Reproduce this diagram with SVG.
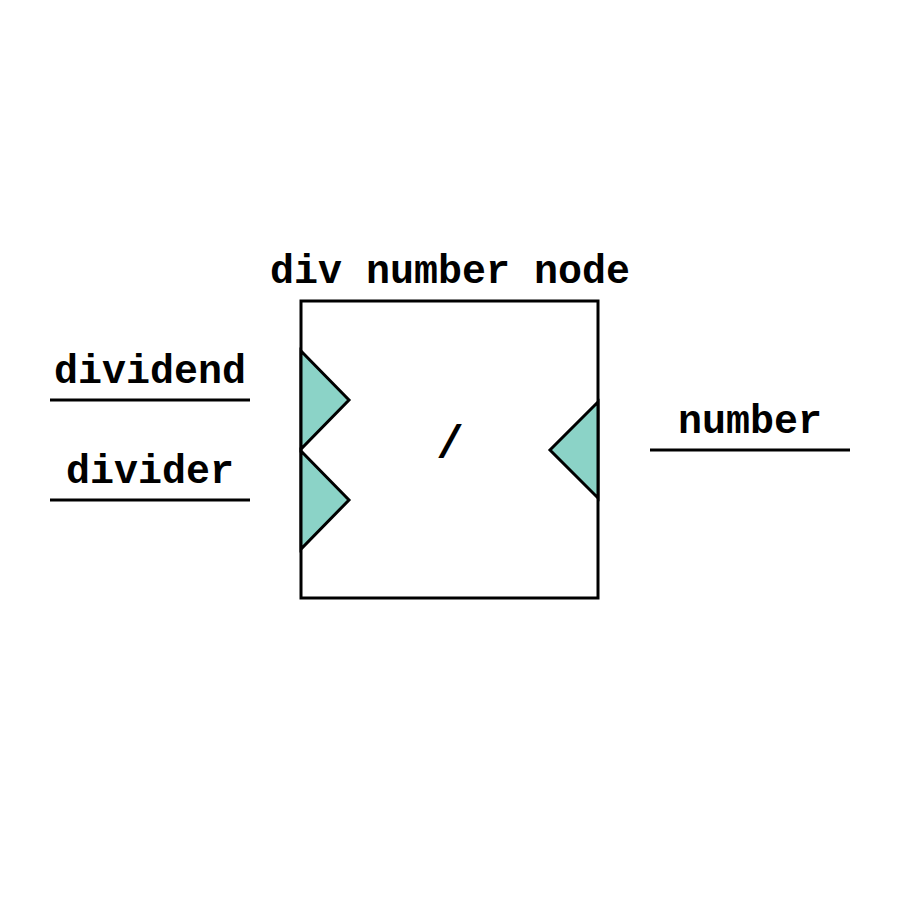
<svg xmlns="http://www.w3.org/2000/svg" width="900" height="900" viewBox="0 0 900 900">
<style>
text{font-family:"Liberation Mono","Courier New",monospace;font-weight:bold;font-size:40px;fill:#000;text-anchor:middle}
.ln{stroke:#000;stroke-width:3;fill:none}
.port{fill:#8BD3C7;stroke:#000;stroke-width:3;stroke-linejoin:miter}
</style>
<rect width="900" height="900" fill="#fff"/>
<g id="node-div">
<rect x="301" y="301" width="297" height="297" fill="#fff" stroke="#000" stroke-width="3"/>
<text x="450" y="283">div number node</text>
<text x="450" y="458" style="font-size:46px">/</text>
</g>
<g id="port-dividend">
<polygon class="port" points="301,351 349,400 301,449"/>
<text x="150" y="383">dividend</text>
</g>
<g id="port-divider">
<polygon class="port" points="301,451 349,500 301,549"/>
<text x="150" y="483">divider</text>
</g>
<g id="port-number">
<polygon class="port" points="598,402 550,450 598,498"/>
<text x="750" y="433">number</text>
</g>
<g id="connectors">
<line class="ln" x1="50" y1="400" x2="250" y2="400"/>
<line class="ln" x1="50" y1="500" x2="250" y2="500"/>
<line class="ln" x1="650" y1="450" x2="850" y2="450"/>
</g>
</svg>
